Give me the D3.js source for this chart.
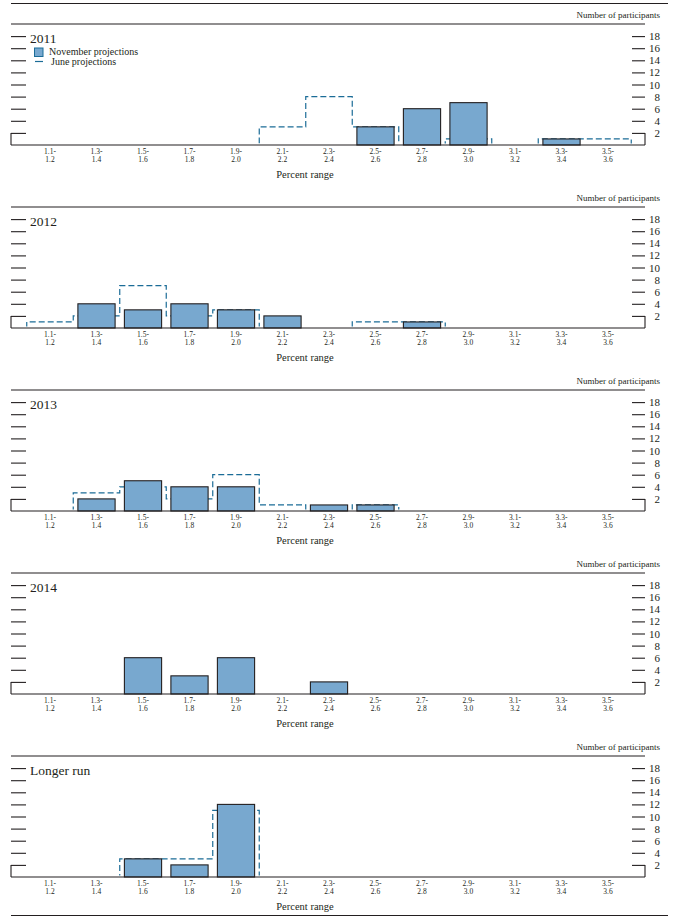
<!DOCTYPE html>
<html>
<head>
<meta charset="utf-8">
<script src="https://cdn.jsdelivr.net/npm/d3@7"></script>
<style>
  body { margin: 0; background: #fff; }
  text { font-family: "Liberation Serif", "Times New Roman", serif; fill: #231f20; }
</style>
</head>
<body>
<script>
// bins of the histogram (percent ranges)
let bins = ["1.1-1.2", "1.3-1.4", "1.5-1.6", "1.7-1.8", "1.9-2.0", "2.1-2.2", "2.3-2.4",
            "2.5-2.6", "2.7-2.8", "2.9-3.0", "3.1-3.2", "3.3-3.4", "3.5-3.6"];

let panelTitles = ["2011", "2012", "2013", "2014", "Longer run"];

// number of participants per bin
let nov2011 = [0, 0, 0, 0, 0, 0, 0, 3, 6, 7, 0, 1, 0];
let jun2011 = [0, 0, 0, 0, 0, 3, 8, 3, 0, 1, 0, 1, 1];
let nov2012 = [0, 4, 3, 4, 3, 2, 0, 0, 1, 0, 0, 0, 0];
let jun2012 = [1, 2, 7, 2, 3, 0, 0, 1, 1, 0, 0, 0, 0];
let nov2013 = [0, 2, 5, 4, 4, 0, 1, 1, 0, 0, 0, 0, 0];
let jun2013 = [0, 3, 4, 2, 6, 1, 0, 1, 0, 0, 0, 0, 0];
let nov2014 = [0, 0, 6, 3, 6, 0, 2, 0, 0, 0, 0, 0, 0];
let novLonger = [0, 0, 3, 2, 12, 0, 0, 0, 0, 0, 0, 0, 0];
let junLonger = [0, 0, 3, 3, 11, 0, 0, 0, 0, 0, 0, 0, 0];

let yTicks = [2, 4, 6, 8, 10, 12, 14, 16, 18];

let novSeries = [nov2011, nov2012, nov2013, nov2014, novLonger];
let junSeries = [jun2011, jun2012, jun2013, null, junLonger];

let width = 674, height = 920;
let left = 11, right = 645;
let panelStep = 183, firstTop = 24, plotH = 121;
let barColor = "#78a8cf", juneColor = "#1b6c97", ink = "#231f20";

let svg = d3.select("body").append("svg")
    .attr("width", width)
    .attr("height", height);

svg.append("rect").attr("width", width).attr("height", height).attr("fill", "#fff");

let defs = svg.append("defs");

// band scale for the bins
let x = d3.scaleBand()
    .domain(bins)
    .range([26.75, 631.25])
    .padding(0);

let bw = x.step();

// border lines top and bottom
svg.append("line").attr("x1", left).attr("x2", 668).attr("y1", 3.5).attr("y2", 3.5)
    .attr("stroke", ink).attr("stroke-width", 1.2);
svg.append("line").attr("x1", left).attr("x2", 668).attr("y1", 915.5).attr("y2", 915.5)
    .attr("stroke", ink).attr("stroke-width", 1.2);

panelTitles.forEach((title, k) => {
    let top = firstTop + panelStep * k;
    let base = top + plotH;

    let y = d3.scaleLinear().domain([0, 20]).range([base, top]);

    let g = svg.append("g").attr("class", "panel");

    // clip so the dashed outline does not run along the baseline
    defs.append("clipPath").attr("id", "clip" + k)
        .append("rect")
        .attr("x", 0).attr("y", top)
        .attr("width", width).attr("height", plotH - 1.5);

    // June projections (dashed step outline), behind the bars
    let jun = junSeries[k];
    if (jun) {
        let pts = [[x(bins[0]), 0]];
        jun.forEach((v, i) => pts.push([x(bins[i]), v]));
        pts.push([x(bins[bins.length - 1]) + bw, 0]);
        let line = d3.line()
            .x(d => d[0])
            .y(d => y(d[1]))
            .curve(d3.curveStepAfter);
        g.append("path")
            .attr("d", line(pts))
            .attr("clip-path", "url(#clip" + k + ")")
            .attr("fill", "none")
            .attr("stroke", juneColor)
            .attr("stroke-width", 1.2)
            .attr("stroke-dasharray", "6,3");
    }

    // November projections bars
    g.selectAll(".bar")
        .data(novSeries[k].map((v, i) => ({ bin: bins[i], v: v })).filter(d => d.v > 0))
        .enter().append("rect")
        .attr("class", "bar")
        .attr("x", d => x(d.bin) + bw * 0.1)
        .attr("width", bw * 0.8)
        .attr("y", d => y(d.v))
        .attr("height", d => y(0) - y(d.v))
        .attr("fill", barColor)
        .attr("stroke", ink)
        .attr("stroke-width", 1.1);

    // top rule and baseline
    g.append("line").attr("x1", left).attr("x2", right).attr("y1", top).attr("y2", top)
        .attr("stroke", ink).attr("stroke-width", 1.1);
    g.append("line").attr("x1", left).attr("x2", right).attr("y1", base).attr("y2", base)
        .attr("stroke", ink).attr("stroke-width", 1.2);

    // left ticks
    let la = g.append("g").attr("transform", "translate(" + left + ",0)")
        .call(d3.axisRight(y).tickValues(yTicks).tickSize(15).tickFormat(""));
    la.select(".domain").remove();
    la.selectAll("line").attr("stroke", ink).attr("stroke-width", 1.1);

    // right ticks + labels
    let ra = g.append("g").attr("transform", "translate(" + right + ",0)")
        .call(d3.axisRight(y).tickValues(yTicks).tickSizeInner(-13).tickPadding(15));
    ra.select(".domain").remove();
    ra.selectAll("line").attr("stroke", ink).attr("stroke-width", 1.1);
    ra.selectAll("text")
        .attr("text-anchor", "end")
        .attr("font-size", 11)
        .attr("fill", ink);

    // small vertical ends of the axis (from 0 to 2)
    [left, right].forEach(px => {
        g.append("line").attr("x1", px).attr("x2", px)
            .attr("y1", y(2)).attr("y2", y(0))
            .attr("stroke", ink).attr("stroke-width", 1.1);
    });

    // bin labels (two stacked lines)
    let lab = g.selectAll(".binlab")
        .data(bins)
        .enter().append("text")
        .attr("class", "binlab")
        .attr("text-anchor", "middle")
        .attr("font-size", 7.5);
    lab.append("tspan")
        .attr("x", d => x(d) + bw / 2)
        .attr("y", base + 9)
        .text(d => d.split("-")[0] + "-");
    lab.append("tspan")
        .attr("x", d => x(d) + bw / 2)
        .attr("y", base + 17)
        .text(d => d.split("-")[1]);

    g.append("text")
        .attr("x", 305).attr("y", base + 33)
        .attr("text-anchor", "middle")
        .attr("font-size", 10.5)
        .text("Percent range");

    g.append("text")
        .attr("x", 660).attr("y", top - 6)
        .attr("text-anchor", "end")
        .attr("font-size", 9)
        .text("Number of participants");

    g.append("text")
        .attr("x", 30).attr("y", top + 19)
        .attr("font-size", 13.5)
        .text(title);

    // legend only on the first panel
    if (k === 0) {
        g.append("rect")
            .attr("x", 34.5).attr("y", top + 24)
            .attr("width", 8.5).attr("height", 8.5)
            .attr("fill", barColor).attr("stroke", juneColor).attr("stroke-width", 1);
        g.append("text")
            .attr("x", 49).attr("y", top + 31)
            .attr("font-size", 10)
            .text("November projections");
        g.append("line")
            .attr("x1", 35).attr("x2", 43).attr("y1", top + 37.5).attr("y2", top + 37.5)
            .attr("stroke", juneColor).attr("stroke-width", 1.2);
        g.append("text")
            .attr("x", 51).attr("y", top + 41)
            .attr("font-size", 10)
            .text("June projections");
    }
});
</script>
</body>
</html>
